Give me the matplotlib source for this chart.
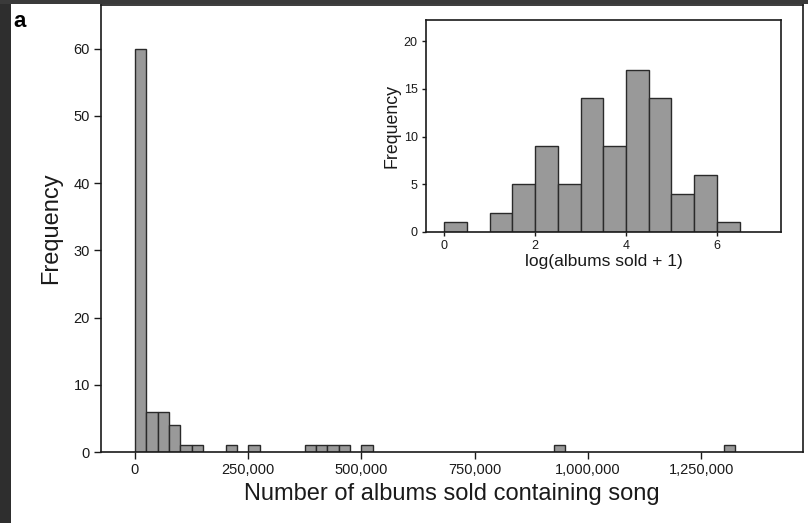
import matplotlib

matplotlib.use("Agg")
import matplotlib.pyplot as plt
from matplotlib.patches import Rectangle
from matplotlib.ticker import FuncFormatter

plt.rcParams["font.family"] = ["Liberation Sans", "DejaVu Sans"]

# Raw sales histogram: 25,000-wide bins, left edges of non-empty bins
sales_bin_width = 25000
sales_bin_left = [0, 25000, 50000, 75000, 100000, 125000, 200000, 250000,
                  375000, 400000, 425000, 450000, 500000, 925000, 1300000]
sales_counts = [60, 6, 6, 4, 1, 1, 1, 1, 1, 1, 1, 1, 1, 1, 1]
sales_ticks = [0, 250000, 500000, 750000, 1000000, 1250000]

# Log-transformed histogram: 0.5-wide bins
log_bin_width = 0.5
log_bin_left = [0.0, 1.0, 1.5, 2.0, 2.5, 3.0, 3.5, 4.0, 4.5, 5.0, 5.5, 6.0]
log_counts = [1, 2, 5, 9, 5, 14, 9, 17, 14, 4, 6, 1]

BAR_FACE = "#999999"
BAR_EDGE = "#2a2a2a"
INK = "#1a1a1a"

fig = plt.figure(figsize=(8.08, 5.23), dpi=100)
fig.patch.set_facecolor("white")

# dark frame strips along left and top edges
fig.patches.append(Rectangle((0, 0), 11 / 808, 1, transform=fig.transFigure,
                             facecolor="#2e2e2e", edgecolor="none", zorder=-1))
fig.patches.append(Rectangle((0, 1 - 4 / 523), 1, 4 / 523, transform=fig.transFigure,
                             facecolor="#3a3a3a", edgecolor="none", zorder=-1))
fig.text(13 / 808, 1 - 27 / 523, "a", fontsize=16, fontweight="bold", color="black")


def style_axes(ax, tick_size, tick_len):
    for sp in ax.spines.values():
        sp.set_linewidth(1.2)
        sp.set_color(INK)
    ax.tick_params(direction="out", length=tick_len, width=1.0, color=INK,
                   labelsize=tick_size, labelcolor=INK, pad=3)


ax = fig.add_axes([101 / 808, 71 / 523, 702 / 808, 447 / 523])
ax.bar(sales_bin_left, sales_counts, width=sales_bin_width, align="edge",
       color=BAR_FACE, edgecolor=BAR_EDGE, linewidth=1.0)
ax.set_xlim(-75000, 1475000)
ax.set_ylim(0, 66.5)
ax.set_xticks(sales_ticks)
ax.xaxis.set_major_formatter(FuncFormatter(lambda v, _: f"{int(v):,}"))
ax.set_yticks(range(0, 61, 10))
ax.set_xlabel("Number of albums sold containing song", fontsize=17, color=INK, labelpad=4)
ax.set_ylabel("Frequency", fontsize=17, color=INK, labelpad=8)
style_axes(ax, 10.5, 5)

inset = fig.add_axes([426 / 808, 291 / 523, 355 / 808, 212 / 523])
inset.bar(log_bin_left, log_counts, width=log_bin_width, align="edge",
          color=BAR_FACE, edgecolor=BAR_EDGE, linewidth=1.0)
inset.set_xlim(-0.4, 7.41)
inset.set_ylim(0, 22.2)
inset.set_xticks([0, 2, 4, 6])
inset.set_yticks([0, 5, 10, 15, 20])
inset.set_xlabel("log(albums sold + 1)", fontsize=12.5, color=INK, labelpad=1)
inset.set_ylabel("Frequency", fontsize=12.8, color=INK, labelpad=2)
style_axes(inset, 9, 3)

fig.savefig("out.png", dpi=100)
